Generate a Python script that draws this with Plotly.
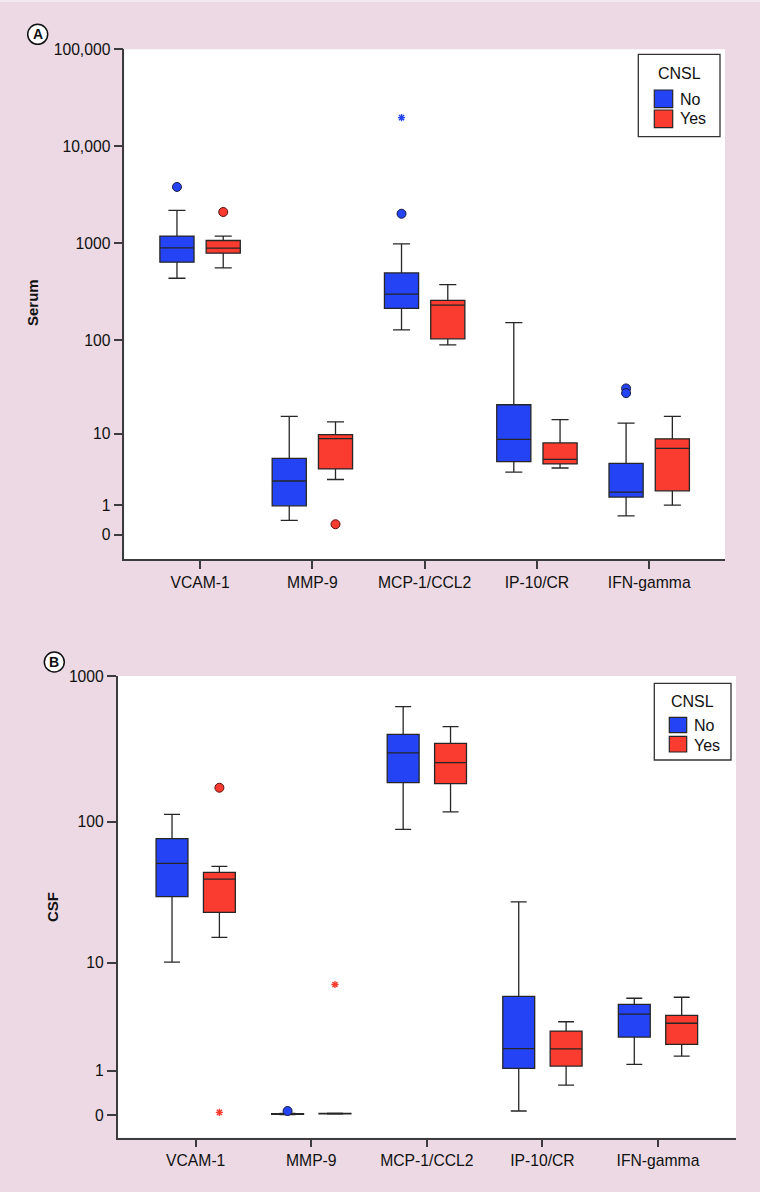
import numpy as np
import plotly.graph_objects as go

# ---------------- data (original units) ----------------
categories = ["VCAM-1", "MMP-9", "MCP-1/CCL2", "IP-10/CR", "IFN-gamma"]

serum_no_lower = [437, 0.40, 128, 3.4, 0.56]
serum_no_q1 = [640, 0.98, 213, 4.65, 1.44]
serum_no_median = [900, 2.57, 300, 8.6, 1.74]
serum_no_q3 = [1189, 5.1, 496, 20.8, 4.42]
serum_no_upper = [2190, 15.5, 990, 152, 13.1]

serum_yes_lower = [559, 2.70, 89, 3.86, 1.01]
serum_yes_q1 = [793, 3.75, 103, 4.35, 1.83]
serum_yes_median = [893, 8.77, 231, 4.97, 6.75]
serum_yes_q3 = [1071, 9.74, 258, 7.81, 8.7]
serum_yes_upper = [1189, 13.5, 375, 14.3, 15.5]

serum_no_out_cat = ["VCAM-1", "MCP-1/CCL2", "MCP-1/CCL2", "IFN-gamma", "IFN-gamma"]
serum_no_out_val = [3820, 2024, 19770, 31.1, 27.7]
serum_no_out_kind = ["circle", "circle", "star", "circle", "circle"]
serum_yes_out_cat = ["VCAM-1", "MMP-9"]
serum_yes_out_val = [2107, 0.28]
serum_yes_out_kind = ["circle", "circle"]

csf_no_lower = [10.1, 0.005, 88.7, 0.065, 1.22]
csf_no_q1 = [30.1, 0.01, 186, 1.085, 2.41]
csf_no_median = [51.5, 0.015, 298, 1.84, 3.90]
csf_no_q3 = [76.4, 0.02, 399, 5.48, 4.71]
csf_no_upper = [112.6, 0.025, 617, 27.6, 5.28]

csf_yes_lower = [15.4, 0.015, 117, 0.60, 1.53]
csf_yes_q1 = [23.3, 0.02, 183, 1.16, 2.04]
csf_yes_median = [40.0, 0.022, 255, 1.83, 3.24]
csf_yes_q3 = [44.6, 0.025, 346, 2.75, 3.80]
csf_yes_upper = [49.1, 0.03, 450, 3.34, 5.38]

csf_no_out_cat = ["MMP-9"]
csf_no_out_val = [0.065]
csf_no_out_kind = ["circle"]
csf_yes_out_cat = ["VCAM-1", "VCAM-1", "MMP-9"]
csf_yes_out_val = [171.6, 0.043, 6.8]
csf_yes_out_kind = ["circle", "star", "star"]

serum_tick_vals = [0, 1, 10, 100, 1000, 10000, 100000]
serum_tick_text = ["0", "1", "10", "100", "1000", "10,000", "100,000"]
csf_tick_vals = [0, 1, 10, 100, 1000]
csf_tick_text = ["0", "1", "10", "100", "1000"]

group_names = ["No", "Yes"]
legend_title = "CNSL"

# ---------------- styling ----------------
W, H = 760, 1192
BG = "#ecd9e3"
BLUE = "#2343f5"
RED = "#f93b30"
LINE = "#262626"
AX = "#3c3c3c"
FONT = "Liberation Sans, Arial, Helvetica, sans-serif"


def t(v):
    return np.log10(np.asarray(v, dtype=float) + 1.0)


def px_x(p):
    return p / W


def px_y(p):
    return 1 - p / H


fig = go.Figure()
pos = {c: i + 1 for i, c in enumerate(categories)}


def add_panel(xa, ya, stats_no, stats_yes, outs_no, outs_yes, off, bw):
    for stats, color, sgn in ((stats_no, BLUE, -1), (stats_yes, RED, 1)):
        lo, q1, med, q3, up = stats
        fig.add_trace(go.Box(
            x=[pos[c] + sgn * off for c in categories],
            lowerfence=t(lo), q1=t(q1), median=t(med), q3=t(q3), upperfence=t(up),
            width=bw, whiskerwidth=0.5, fillcolor=color,
            line=dict(color=LINE, width=1.3), boxpoints=False,
            xaxis=xa, yaxis=ya, showlegend=False, hoverinfo="skip"))
    for (cats, vals, kinds), color, sgn in ((outs_no, BLUE, -1), (outs_yes, RED, 1)):
        for kind in ("circle", "star"):
            xs = [pos[c] + sgn * off for c, k in zip(cats, kinds) if k == kind]
            ys = [v for v, k in zip(vals, kinds) if k == kind]
            if not xs:
                continue
            if kind == "circle":
                mk = dict(symbol="circle", size=9, color=color,
                          line=dict(color="#1a1a40" if color == BLUE else "#5a1010", width=1))
            else:
                mk = dict(symbol="asterisk-open", size=6, color=color, line=dict(color=color, width=1.4))
            fig.add_trace(go.Scatter(x=xs, y=t(ys), mode="markers", marker=mk,
                                     xaxis=xa, yaxis=ya, showlegend=False, hoverinfo="skip"))


add_panel("x", "y",
          (serum_no_lower, serum_no_q1, serum_no_median, serum_no_q3, serum_no_upper),
          (serum_yes_lower, serum_yes_q1, serum_yes_median, serum_yes_q3, serum_yes_upper),
          (serum_no_out_cat, serum_no_out_val, serum_no_out_kind),
          (serum_yes_out_cat, serum_yes_out_val, serum_yes_out_kind), 0.206, 0.304)
add_panel("x2", "y2",
          (csf_no_lower, csf_no_q1, csf_no_median, csf_no_q3, csf_no_upper),
          (csf_yes_lower, csf_yes_q1, csf_yes_median, csf_yes_q3, csf_yes_upper),
          (csf_no_out_cat, csf_no_out_val, csf_no_out_kind),
          (csf_yes_out_cat, csf_yes_out_val, csf_yes_out_kind), 0.205, 0.276)

xcommon = dict(range=[0.325, 5.675], tickvals=list(range(1, 6)), ticktext=categories,
               showgrid=False, zeroline=False, showline=True, linecolor=AX, linewidth=1.5,
               ticks="outside", ticklen=8, tickwidth=1.5, tickcolor=AX,
               tickfont=dict(size=15.7, color="#111", family=FONT), automargin=False, fixedrange=True)
ycommon = dict(showgrid=False, zeroline=False, showline=True, linecolor=AX, linewidth=1.5,
               ticks="outside", ticklen=9, tickwidth=1.5, tickcolor=AX,
               tickfont=dict(size=15.7, color="#111", family=FONT), automargin=False, fixedrange=True)

fig.update_layout(
    width=W, height=H, margin=dict(l=0, r=0, t=0, b=0),
    paper_bgcolor=BG, plot_bgcolor="white", font=dict(family=FONT, color="#111"),
    xaxis=dict(domain=[px_x(124.3), px_x(725)], anchor="y", **xcommon),
    yaxis=dict(domain=[px_y(559.3), px_y(49.3)], anchor="x", range=[-0.254, 5.0002],
               tickvals=t(serum_tick_vals), ticktext=serum_tick_text, **ycommon),
    xaxis2=dict(domain=[px_x(117.7), px_x(736)], anchor="y2", **xcommon),
    yaxis2=dict(domain=[px_y(1137.7), px_y(676)], anchor="x2", range=[-0.155, 3.0006],
                tickvals=t(csf_tick_vals), ticktext=csf_tick_text, **ycommon),
)

shapes = []
annotations = []

# thin light band along the top edge
shapes.append(dict(type="rect", xref="paper", yref="paper", x0=0, x1=1, y0=px_y(2), y1=1,
                   line=dict(width=0), fillcolor="#f3eaef", layer="below"))

# panel labels
for (cx, cy, lab) in ((37.7, 34.3, "A"), (54.3, 662, "B")):
    shapes.append(dict(type="circle", xref="paper", yref="paper",
                       x0=px_x(cx - 10), x1=px_x(cx + 10), y0=px_y(cy + 10), y1=px_y(cy - 10),
                       line=dict(color="#111", width=1.5), fillcolor="white"))
    annotations.append(dict(x=px_x(cx), y=px_y(cy), xref="paper", yref="paper", text="<b>%s</b>" % lab,
                            showarrow=False, font=dict(size=14, color="#111", family=FONT),
                            xanchor="center", yanchor="middle"))

# y titles
for (cx, cy, lab) in ((33, 303, "Serum"), (52, 907, "CSF")):
    annotations.append(dict(x=px_x(cx), y=px_y(cy), xref="paper", yref="paper", text="<b>%s</b>" % lab,
                            showarrow=False, textangle=-90, font=dict(size=15, color="#111", family=FONT),
                            xanchor="center", yanchor="middle"))

# legends (drawn)
legends = [
    dict(box=(638.3, 54.3, 720, 136.7), title_y=73.3, sw_x=(654.3, 672.7),
         sw_y=[(90, 107.7), (110, 127.7)], text_x=677.7, text_y=[99, 119]),
    dict(box=(654.3, 683.3, 731, 760), title_y=701, sw_x=(669.3, 686.7),
         sw_y=[(717.3, 732.7), (736.3, 752)], text_x=691.7, text_y=[725.5, 745]),
]
for lg in legends:
    x0, y0, x1, y1 = lg["box"]
    shapes.append(dict(type="rect", xref="paper", yref="paper", x0=px_x(x0), x1=px_x(x1),
                       y0=px_y(y1), y1=px_y(y0), line=dict(color="#333", width=1.3), fillcolor="white"))
    annotations.append(dict(x=px_x((x0 + x1) / 2), y=px_y(lg["title_y"]), xref="paper", yref="paper",
                            text=legend_title, showarrow=False, font=dict(size=16, color="#111", family=FONT),
                            xanchor="center", yanchor="middle"))
    for (sy0, sy1), ty, color, name in zip(lg["sw_y"], lg["text_y"], (BLUE, RED), group_names):
        shapes.append(dict(type="rect", xref="paper", yref="paper", x0=px_x(lg["sw_x"][0]), x1=px_x(lg["sw_x"][1]),
                           y0=px_y(sy1), y1=px_y(sy0), line=dict(color=LINE, width=1.2), fillcolor=color))
        annotations.append(dict(x=px_x(lg["text_x"]), y=px_y(ty), xref="paper", yref="paper", text=name,
                                showarrow=False, font=dict(size=16, color="#111", family=FONT),
                                xanchor="left", yanchor="middle"))

fig.update_layout(shapes=shapes, annotations=annotations)
fig.write_html("out.html", config={"displayModeBar": False},
               post_script="document.body.style.margin='0';document.body.style.padding='0';"
                           "document.body.style.background='%s';" % BG)
